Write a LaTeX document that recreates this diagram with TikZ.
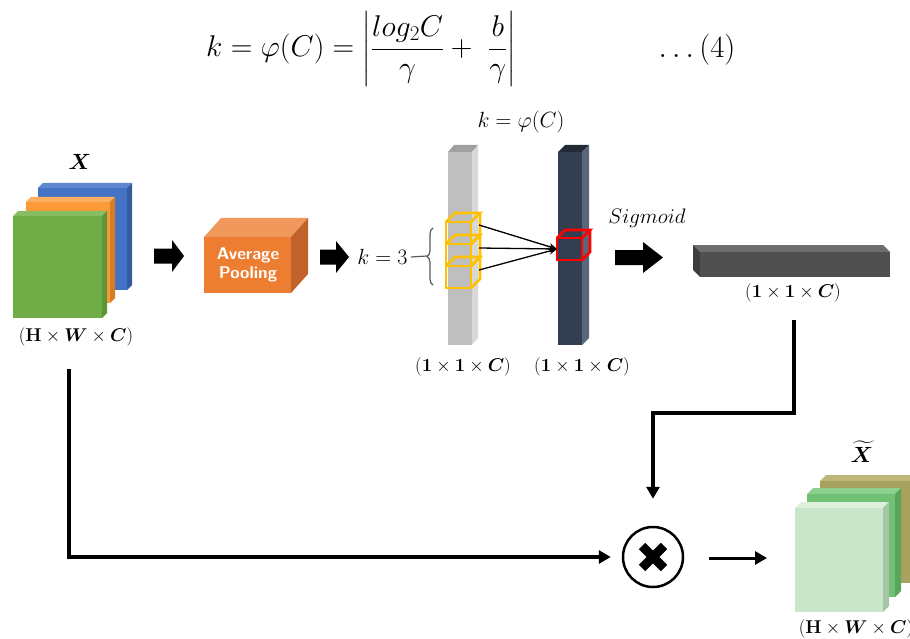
\RequirePackage{fix-cm}
\documentclass[tikz,border=0pt]{standalone}
\usepackage{amsmath}
\usepackage{bm}
\usetikzlibrary{arrows.meta,decorations.pathreplacing}
\definecolor{xblue}{RGB}{68, 114, 196}
\definecolor{xbluedk}{RGB}{52, 90, 160}
\definecolor{xbluelt}{RGB}{95, 135, 208}
\definecolor{xorange}{RGB}{250, 155, 55}
\definecolor{xorangedk}{RGB}{215, 125, 35}
\definecolor{xorangelt}{RGB}{252, 175, 95}
\definecolor{xgreen}{RGB}{112, 173, 71}
\definecolor{xgreendk}{RGB}{92, 150, 55}
\definecolor{xgreenlt}{RGB}{135, 190, 98}
\definecolor{poolfront}{RGB}{237, 125, 49}
\definecolor{pooltop}{RGB}{241, 152, 92}
\definecolor{poolside}{RGB}{192, 98, 42}
\definecolor{barfront}{RGB}{191, 191, 191}
\definecolor{bartop}{RGB}{160, 160, 160}
\definecolor{barside}{RGB}{216, 216, 216}
\definecolor{convfront}{RGB}{51, 63, 80}
\definecolor{convtop}{RGB}{34, 42, 53}
\definecolor{convside}{RGB}{90, 103, 120}
\definecolor{sigfront}{RGB}{80, 80, 80}
\definecolor{sigtop}{RGB}{110, 110, 110}
\definecolor{sigside}{RGB}{60, 60, 60}
\definecolor{kyellow}{RGB}{255, 192, 0}
\definecolor{kred}{RGB}{255, 0, 0}
\definecolor{olive}{RGB}{169, 162, 95}
\definecolor{olivedk}{RGB}{140, 134, 75}
\definecolor{olivelt}{RGB}{190, 184, 120}
\definecolor{midgreen}{RGB}{112, 193, 115}
\definecolor{midgreendk}{RGB}{88, 165, 92}
\definecolor{midgreenlt}{RGB}{140, 210, 142}
\definecolor{palegreen}{RGB}{201, 230, 202}
\definecolor{palegreendk}{RGB}{166, 196, 167}
\definecolor{palegreenlt}{RGB}{220, 240, 220}

% front face, top and right side of a box
\newcommand{\slab}[9]{%
  \fill[#8] (#1,#2) -- ++(#5,#6) -- ({#3+#5},{#2+#6}) -- (#3,#2) -- cycle;
  \fill[#9] (#3,#2) -- ++(#5,#6) -- ({#3+#5},{#4+#6}) -- (#3,#4) -- cycle;
  \fill[#7] (#1,#2) rectangle (#3,#4);
}
% open cube drawn as edges only
\newcommand{\wirecube}[6][]{%
  \draw[#1] (#2,#3) rectangle (#4,#5);
  \draw[#1] (#2,#3) -- ++(#6,-#6) -- ({#4+#6},{#3-#6}) -- (#4,#3);
  \draw[#1] ({#4+#6},{#3-#6}) -- ({#4+#6},{#5-#6}) -- (#4,#5);
}
% fat black arrow
\newcommand{\fatarrow}[6]{%
  \fill (#1,{#4-#5}) -- (#2,{#4-#5}) -- (#2,{#4-#6}) -- (#3,#4)
    -- (#2,{#4+#6}) -- (#2,{#4+#5}) -- (#1,{#4+#5}) -- cycle;
}

\begin{document}
\begin{tikzpicture}[x=1pt, y=-1pt, >={Triangle[width=13pt,length=12pt]},
    flow/.style={line width=4pt, ->},
    tap/.style={line width=1.3pt, -{Stealth[length=8pt,width=7pt]}},
    dimlabel/.style={font=\fontsize{18.5}{22}\selectfont},
    mathlabel/.style={font=\fontsize{22}{26}\selectfont}]
    \useasboundingbox (0,0) rectangle (910,639);

    % Formula
    \node[font=\fontsize{30}{36}\selectfont, inner sep=0] (eqn) at (361,49)
        {$k=\varphi(C)=\left|\dfrac{log_2C}{\gamma}+\ \dfrac{b}{\gamma}\right|$};
    \node[font=\fontsize{31}{36}\selectfont, inner sep=0] (eqnum) at (697,50) {$\dots(4)$};

    % Input X
    \slab{38}{188}{127}{290}{5}{-5}{xblue}{xbluelt}{xbluedk}
    \slab{26}{202}{110}{303}{5}{-5}{xorange}{xorangelt}{xorangedk}
    \slab{13}{216}{102}{318}{5}{-5}{xgreen}{xgreenlt}{xgreendk}
    \node[mathlabel] (xlab) at (80,162) {$\bm{X}$};
    \node[dimlabel] (xdim) at (76,337) {$(\mathbf{H}\times\bm{W}\times\bm{C})$};
    \coordinate (xout) at (69,369);

    \fatarrow{154}{172}{184}{256}{7.5}{16}

    % Average pooling
    \slab{204}{237}{291}{293}{17}{-19}{poolfront}{pooltop}{poolside}
    \node[text=white, font=\sffamily\bfseries\fontsize{17}{19}\selectfont, align=center]
        (pool) at (248,265) {Average\\Pooling};

    \fatarrow{320}{336}{349}{257}{7.5}{16}

    % 1D convolution
    \slab{448}{152}{472}{345}{6}{-7}{barfront}{bartop}{barside}
    \slab{558}{152}{582}{345}{7}{-7}{convfront}{convtop}{convside}
    \node[mathlabel] (klab) at (521,122) {$k=\varphi(C)$};
    \node[dimlabel] (gdim) at (463,367) {$(\bm{1}\times\bm{1}\times\bm{C})$};
    \node[dimlabel] (cdim) at (582,367) {$(\bm{1}\times\bm{1}\times\bm{C})$};

    \wirecube[kyellow, line width=2.8pt]{446}{222}{471}{244}{9}
    \wirecube[kyellow, line width=2.8pt]{446}{244}{471}{266}{9}
    \wirecube[kyellow, line width=2.8pt]{446}{266}{471}{288}{9}
    \wirecube[kred, line width=2.8pt]{557}{238}{582}{260}{8}

    \node[mathlabel, anchor=east] (kthree) at (411,257) {$k=3$};
    \coordinate (bracetip) at (427,256);
    \draw[black!65, line width=1.2pt, decorate, decoration={brace, amplitude=6pt}]
        (433,285) -- (433,228);
    \draw[black!65, line width=1.2pt] (kthree.east) -- (bracetip);

    \coordinate (ya) at (479,225);
    \coordinate (yb) at (479,248);
    \coordinate (yc) at (479,270);
    \coordinate (rin) at (557,249);
    \draw[tap] (ya) -- (rin);
    \draw[tap] (yb) -- (rin);
    \draw[tap] (yc) -- (rin);

    % Sigmoid
    \node[font=\fontsize{21}{25}\selectfont] (sig) at (647,218) {$Sigmoid$};
    \fatarrow{615}{643}{663}{257.5}{7.5}{15.5}

    \fill[sigtop] (700,252) -- (693,245) -- (883,245) -- (890,252) -- cycle;
    \fill[sigside] (700,252) -- (693,245) -- (693,270) -- (700,277) -- cycle;
    \fill[sigfront] (700,252) rectangle (890,277);
    \node[dimlabel] (sdim) at (793,293) {$(\bm{1}\times\bm{1}\times\bm{C})$};
    \coordinate (sigout) at (794,320);

    % Multiplication
    \node[circle, draw, line width=2.5pt, minimum size=60pt, inner sep=0] (mul) at (653,557) {};
    \draw[line width=9pt] ([shift={(-11,-11)}]mul.center) -- ([shift={(11,11)}]mul.center);
    \draw[line width=9pt] ([shift={(-11,11)}]mul.center) -- ([shift={(11,-11)}]mul.center);

    \draw[flow, shorten >=11pt] (xout) |- (mul.west);
    \draw[flow, shorten >=27pt] (sigout) -- (794,413) -| (mul.north);
    \coordinate (xtin) at (767,558);
    \draw[line width=3pt, ->, shorten <=25pt] (mul.east |- xtin) -- (xtin);

    % Output X tilde
    \slab{820}{481}{918}{583}{6}{-6}{olive}{olivelt}{olivedk}
    \slab{807}{494}{895}{597}{6}{-6}{midgreen}{midgreenlt}{midgreendk}
    \slab{795}{508}{883}{612}{6}{-6}{palegreen}{palegreenlt}{palegreendk}
    \node[mathlabel] (xtlab) at (862,452) {$\widetilde{\bm{X}}$};
    \node[dimlabel] (xtdim) at (856,629) {$(\mathbf{H}\times\bm{W}\times\bm{C})$};
\end{tikzpicture}
\end{document}
